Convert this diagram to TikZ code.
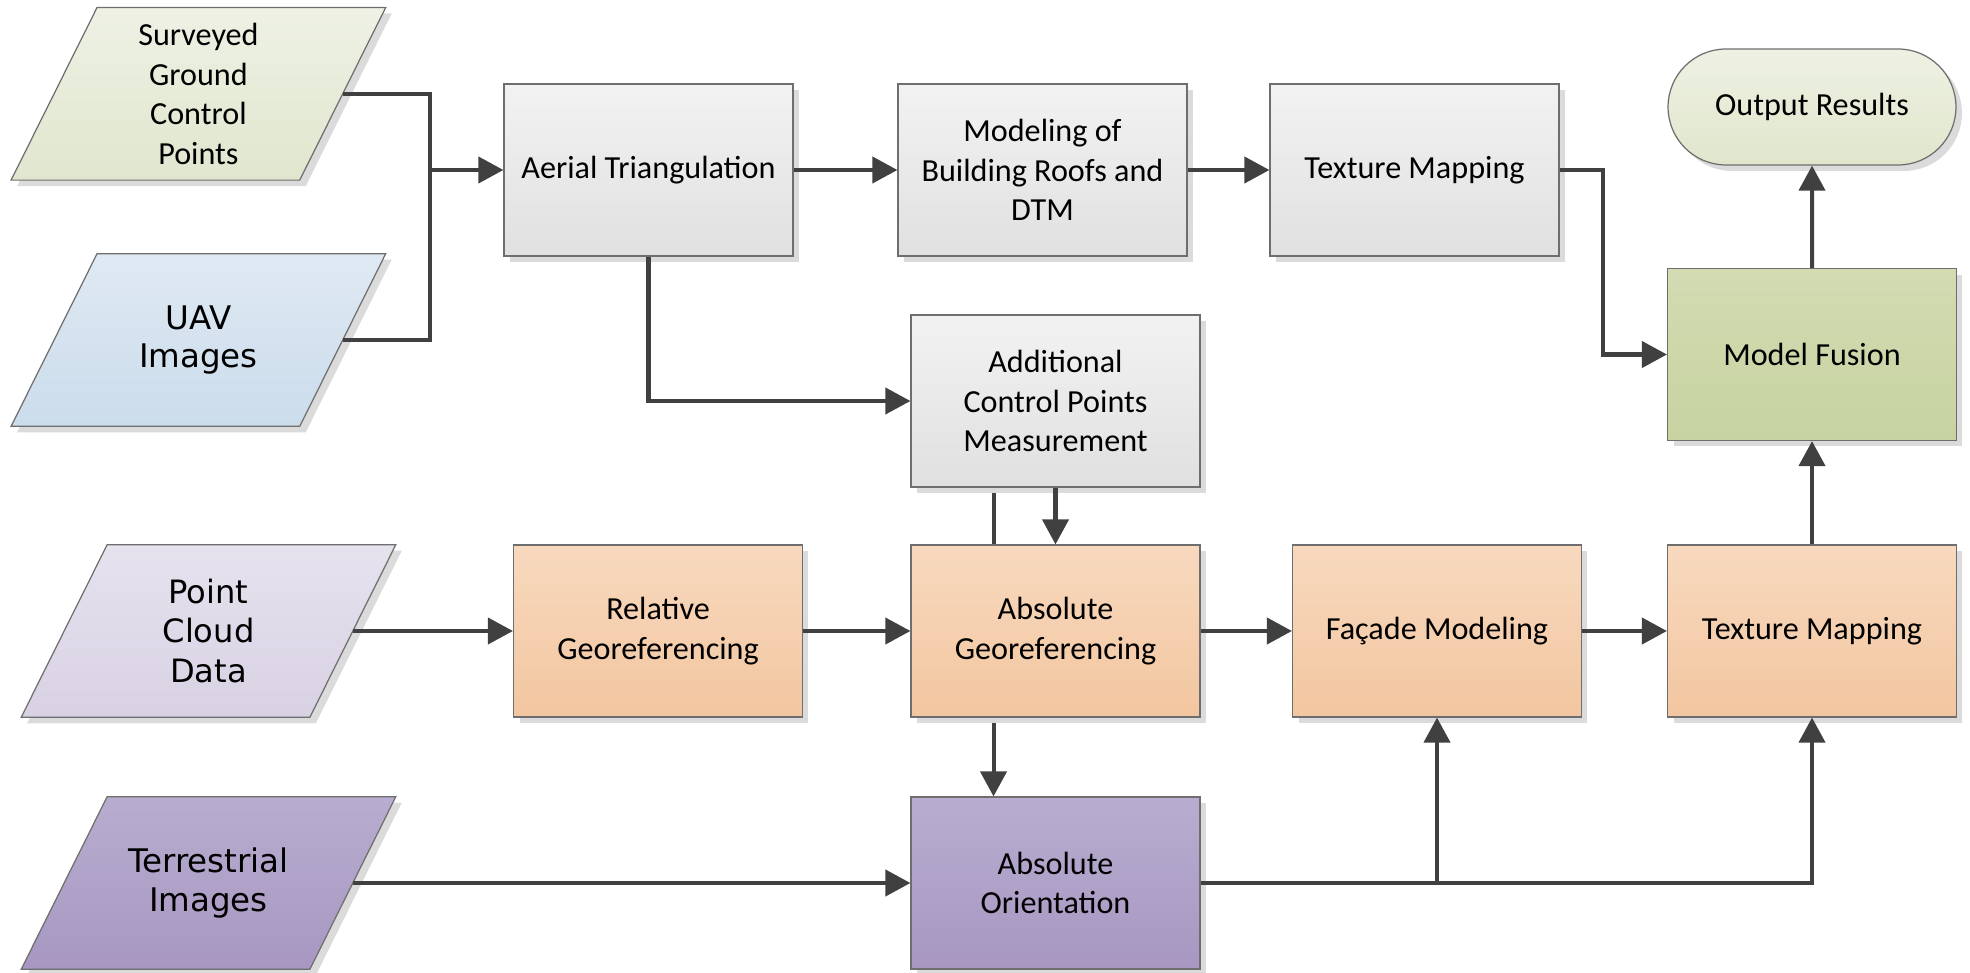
\documentclass[tikz,border=0pt]{standalone}
\usepackage{fontspec}
\setmainfont{Carlito}
\newfontfamily\vfont{DejaVu Sans}
\usetikzlibrary{shapes.geometric,shapes.misc,shadows,arrows.meta,calc,backgrounds}
\definecolor{lineC}{HTML}{404040}
\definecolor{bordC}{HTML}{6E6E6E}
\definecolor{sgT}{HTML}{EEF1E4}\definecolor{sgB}{HTML}{E0E6CE}
\definecolor{uaT}{HTML}{DFE9F3}\definecolor{uaB}{HTML}{CBDCEB}
\definecolor{grT}{HTML}{F2F2F2}\definecolor{grB}{HTML}{E0E0E0}
\definecolor{ouT}{HTML}{EEF1E3}\definecolor{ouB}{HTML}{E0E6CC}
\definecolor{fuT}{HTML}{D2DBB2}\definecolor{fuB}{HTML}{C7D3A1}
\definecolor{orT}{HTML}{F8D9BE}\definecolor{orB}{HTML}{F2C6A0}
\definecolor{pcT}{HTML}{E6E2EE}\definecolor{pcB}{HTML}{D8D1E3}
\definecolor{teT}{HTML}{B8ADD0}\definecolor{teB}{HTML}{A797C1}
\begin{document}
\begin{tikzpicture}[x=0.02cm,y=-0.02cm,
  shadowed/.style={drop shadow={shadow xshift=0.12cm,shadow yshift=-0.12cm,fill=black!14,opacity=1}},
  base/.style={draw=bordC, line width=0.7pt, align=center, inner sep=0pt,
    font=\fontsize{18.3}{22.5}\selectfont, shadowed},
  vtext/.style={font=\vfont\fontsize{18.5}{22}\selectfont},
  box/.style={base, rectangle, minimum width=5.78cm, minimum height=3.44cm},
  paranode/.style={rectangle, align=center, inner sep=0pt, font=\fontsize{18.3}{22.5}\selectfont,
    minimum width=5.76cm, minimum height=3.44cm},
  parashape/.style={draw=bordC, line width=0.7pt, shadowed},
  outbox/.style={base, rounded rectangle, minimum width=5.76cm, minimum height=2.32cm},
  sgfill/.style={top color=sgT, bottom color=sgB},
  uafill/.style={top color=uaT, bottom color=uaB},
  grfill/.style={top color=grT, bottom color=grB},
  oufill/.style={top color=ouT, bottom color=ouB},
  fufill/.style={top color=fuT, bottom color=fuB},
  orfill/.style={top color=orT, bottom color=orB},
  pcfill/.style={top color=pcT, bottom color=pcB},
  tefill/.style={top color=teT, bottom color=teB},
  conn/.style={draw=lineC, line width=2.3pt},
  arr/.style={conn, -{Triangle[length=0.5cm,width=0.52cm]}}
]
\useasboundingbox (0,0) rectangle (1970,973);
% inputs (text nodes; parallelogram outlines drawn behind them)
\node[paranode] (sgcp) at (198.4,93.8) {Surveyed\\Ground\\Control\\Points};
\node[paranode, vtext] (uav) at (198.4,340) {UAV\\Images};
\node[paranode] (pcd) at (208.5,631) {\vfont Point\\\vfont Cloud\\\vfont Data};
\node[paranode, vtext] (ter) at (208.5,883) {Terrestrial\\Images};
\begin{scope}[on background layer]
\foreach \n/\f in {sgcp/sgfill, uav/uafill, pcd/pcfill, ter/tefill}{
  \path[parashape, \f] ([xshift=0.86cm]\n.north west) -- ([xshift=0.86cm]\n.north east)
    -- ([xshift=-0.86cm]\n.south east) -- ([xshift=-0.86cm]\n.south west) -- cycle;
}
\end{scope}
% process boxes
\node[box, grfill] (aerial) at (648.5,170) {Aerial Triangulation};
\node[box, grfill] (model) at (1042.5,170) {Modeling of\\Building Roofs and\\DTM};
\node[box, grfill] (tex1) at (1414.5,170) {Texture Mapping};
\node[outbox, oufill] (out) at (1812,107) {Output Results};
\node[box, fufill] (fusion) at (1812,354.5) {Model Fusion};
\node[box, grfill] (add) at (1055.5,401) {Additional\\Control Points\\Measurement};
\node[box, orfill] (rel) at (658,631) {Relative\\Georeferencing};
\node[box, orfill] (absgeo) at (1055.5,631) {Absolute\\Georeferencing};
\node[box, orfill] (facade) at (1437,631) {Façade Modeling};
\node[box, orfill] (tex2) at (1812,631) {Texture Mapping};
\node[box, tefill] (absor) at (1055.5,883) {Absolute\\Orientation};
% helper coordinates
\coordinate (j1) at (430,170);
\coordinate (j3) at (facade.south |- absor.east);
% connectors
\draw[conn] (sgcp.east) -| (j1);
\draw[conn] (uav.east) -| (j1);
\draw[arr] (j1) -- (aerial.west);
\draw[arr] (aerial) -- (model);
\draw[arr] (model) -- (tex1);
\draw[arr] (tex1.east) -- ++(43,0) |- (fusion.west);
\draw[arr] (fusion) -- (out);
\draw[arr] (aerial.south) |- (add.west);
\draw[arr] (add) -- (absgeo);
\begin{scope}[on background layer]
\draw[arr] ([xshift=-1.24cm]add.south) -- ([xshift=-1.24cm]absor.north);
\end{scope}
\draw[arr] (pcd.east) -- (rel.west);
\draw[arr] (rel) -- (absgeo);
\draw[arr] (absgeo) -- (facade);
\draw[arr] (facade) -- (tex2);
\draw[arr] (tex2) -- (fusion);
\draw[arr] (ter.east) -- (absor.west);
\draw[arr] (absor.east) -| (tex2.south);
\draw[arr] (j3) -- (facade.south);
\end{tikzpicture}
\end{document}
